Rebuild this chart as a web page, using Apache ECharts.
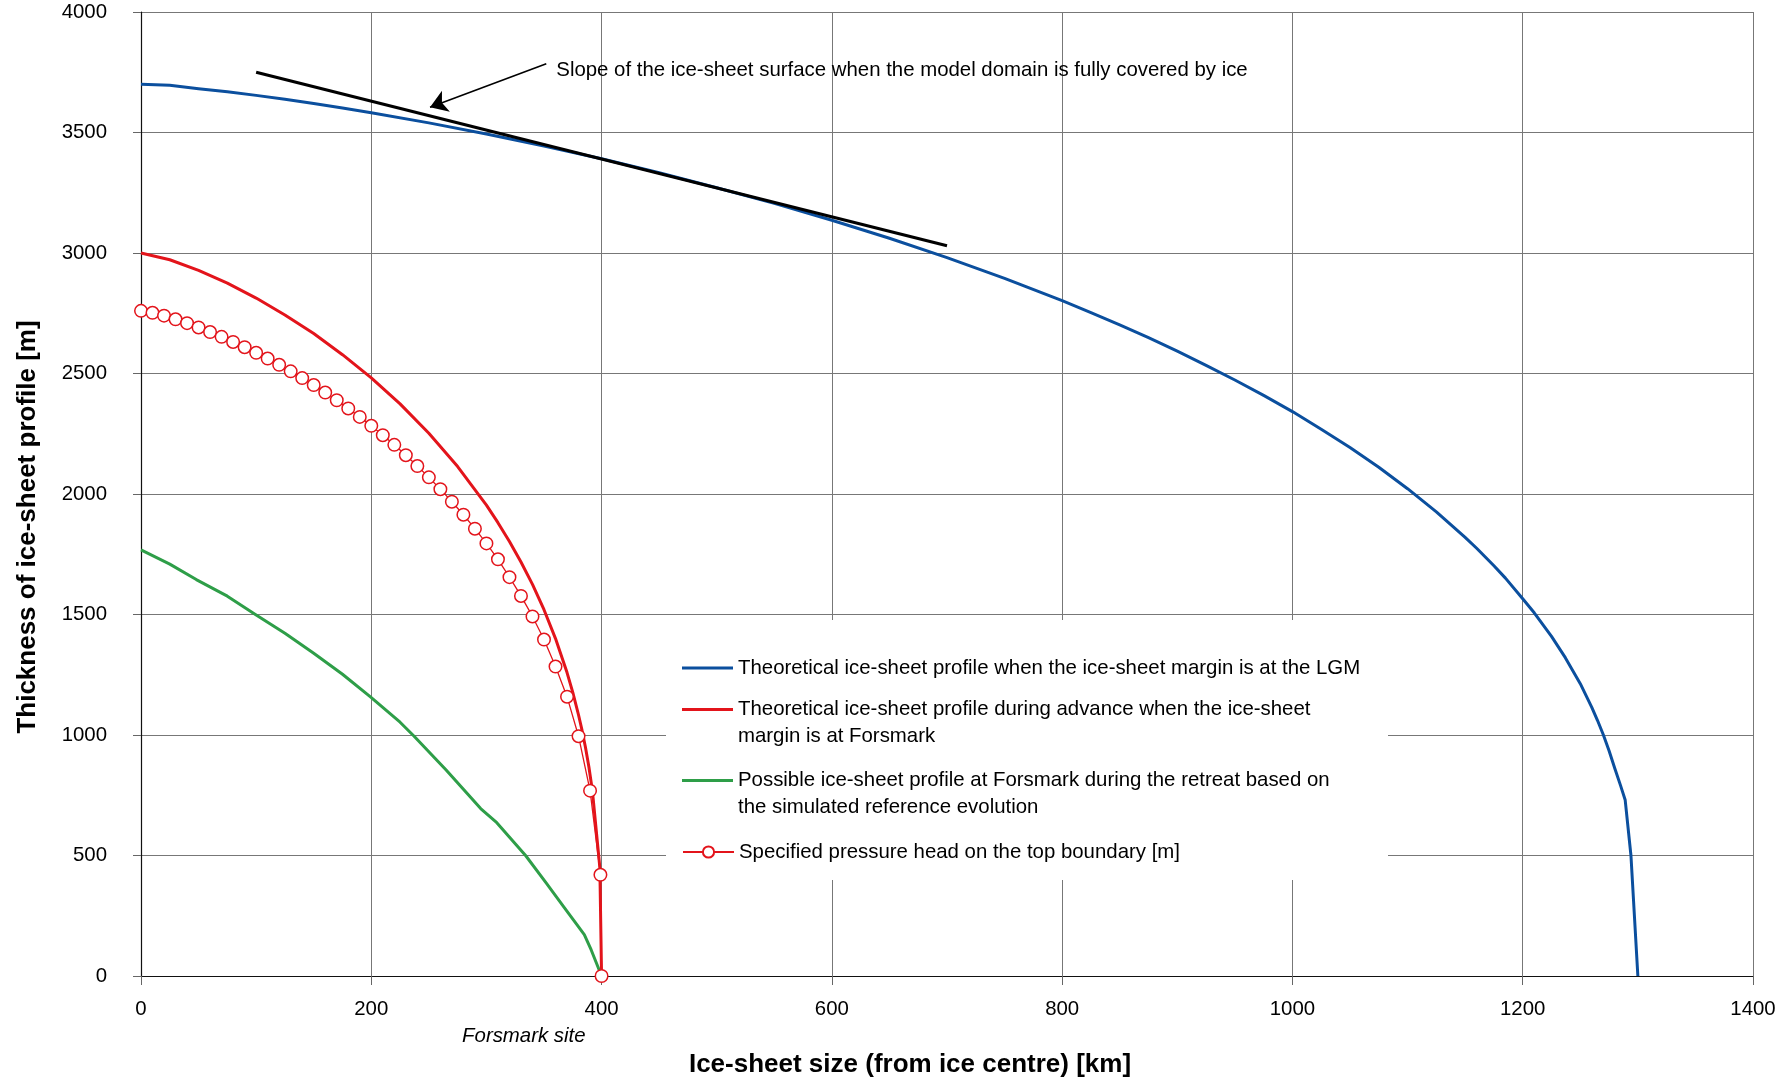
<!DOCTYPE html>
<html>
<head>
<meta charset="utf-8">
<script src="https://cdn.jsdelivr.net/npm/echarts@6/dist/echarts.min.js"></script>
<style>html,body{margin:0;padding:0;background:#fff}#c{width:1790px;height:1086px}</style>
</head>
<body>
<div id="c"></div>
<script>
const FONT = "'Liberation Sans', Arial, Helvetica, sans-serif";

const xTitle = 'Ice-sheet size (from ice centre) [km]';
const yTitle = 'Thickness of ice-sheet profile [m]';
const xTicks = [0, 200, 400, 600, 800, 1000, 1200, 1400];
const yTicks = [0, 500, 1000, 1500, 2000, 2500, 3000, 3500, 4000];

const seriesNames = [
  'Theoretical ice-sheet profile when the ice-sheet margin is at the LGM',
  'Theoretical ice-sheet profile during advance when the ice-sheet margin is at Forsmark',
  'Possible ice-sheet profile at Forsmark during the retreat based on the simulated reference evolution',
  'Specified pressure head on the top boundary [m]'
];
const legendLabels = [
  'Theoretical ice-sheet profile when the ice-sheet margin is at the LGM',
  '\nTheoretical ice-sheet profile during advance when the ice-sheet\nmargin is at Forsmark',
  '\nPossible ice-sheet profile at Forsmark during the retreat based on\nthe simulated reference evolution',
  'Specified pressure head on the top boundary [m]'
];
const annotationText = 'Slope of the ice-sheet surface when the model domain is fully covered by ice';
const siteLabel = 'Forsmark site';
const siteKm = 400;

// LGM profile (blue)
const blueKm  = [0, 25, 50, 75, 100, 125, 150, 175, 200, 250, 300, 350, 400, 450, 500, 550, 600, 650, 700, 750, 800, 825, 850, 875, 900, 925, 950, 975, 1000, 1025, 1050, 1075, 1100, 1125, 1150, 1160, 1175, 1185, 1200, 1210, 1225, 1237, 1250, 1260, 1265, 1270, 1275, 1280, 1285, 1289, 1294, 1300];
const blueThk = [3700, 3696, 3682, 3669, 3654, 3638, 3620, 3602, 3582, 3540, 3494, 3444, 3391, 3333, 3271, 3206, 3136, 3061, 2981, 2895, 2802, 2753, 2702, 2649, 2593, 2534, 2473, 2409, 2342, 2269, 2193, 2111, 2022, 1926, 1820, 1775, 1702, 1651, 1565, 1507, 1409, 1321, 1213, 1115, 1060, 1001, 935, 861, 790, 730, 500, 0];

// Advance profile, margin at Forsmark (red)
const redKm  = [0, 25, 50, 75, 100, 125, 150, 175, 200, 225, 250, 275, 300, 310, 320, 330, 340, 350, 360, 370, 375, 380, 383, 386, 389, 392, 398.5, 400];
const redThk = [3000, 2972, 2928, 2875, 2813, 2743, 2666, 2578, 2482, 2374, 2252, 2114, 1954, 1881, 1803, 1718, 1625, 1520, 1400, 1259, 1177, 1083, 1020, 949, 867, 770, 450, 0];

// Retreat profile (green)
const greenKm  = [0, 25, 48, 75, 99, 125, 150, 175, 199, 225, 237, 265, 280, 295, 309, 334, 352, 367, 385, 391, 400];
const greenThk = [1768, 1709, 1645, 1576, 1501, 1422, 1339, 1252, 1159, 1053, 996, 855, 775, 695, 636, 500, 385, 288, 172, 108, 0];

// Specified pressure head (red markers)
const headKm  = [0, 10, 20, 30, 40, 50, 60, 70, 80, 90, 100, 110, 120, 130, 140, 150, 160, 170, 180, 190, 200, 210, 220, 230, 240, 250, 260, 270, 280, 290, 300, 310, 320, 330, 340, 350, 360, 370, 380, 390, 399, 400];
const headVal = [2760, 2752, 2740, 2725, 2709, 2691, 2672, 2652, 2631, 2609, 2586, 2562, 2536, 2509, 2481, 2452, 2421, 2389, 2355, 2320, 2283, 2244, 2204, 2161, 2116, 2069, 2020, 1968, 1914, 1856, 1795, 1729, 1655, 1577, 1492, 1396, 1284, 1159, 995, 769, 420, 0];

// Surface slope line and its arrow
const slopeKm  = [100, 700];
const slopeVal = [3750, 3030];
const arrowFrom = [352, 3785];
const arrowTo   = [251, 3605];

const zip = (a, b) => a.map((v, i) => [v, b[i]]);

const BLUE = '#0b4f9e', RED = '#e3141b', GREEN = '#2e9e48';
const FS = 20.4;

const chart = echarts.init(document.getElementById('c'), null, {renderer: 'canvas'});

const axisCommon = {
  type: 'value',
  nameLocation: 'middle',
  axisLine: {show: true, onZero: false, lineStyle: {color: '#111', width: 1.2}},
  splitLine: {show: true, lineStyle: {color: '#777', width: 1}}
};

const legendBase = {
  left: 682, orient: 'horizontal', padding: 0, itemGap: 0,
  itemWidth: 51, itemHeight: 14, selectedMode: false,
  textStyle: {fontSize: FS, color: '#000', fontFamily: FONT, lineHeight: 27},
  formatter: name => legendLabels[seriesNames.indexOf(name)]
};

const option = {
  animation: false,
  backgroundColor: '#fff',
  grid: {left: 141, right: 37, top: 12, bottom: 110, containLabel: false},
  xAxis: Object.assign({}, axisCommon, {
    min: xTicks[0], max: xTicks[xTicks.length - 1], interval: 200,
    name: xTitle, nameGap: 76,
    nameTextStyle: {fontSize: 26, fontWeight: 'bold', color: '#000', fontFamily: FONT, padding: [0, 74, 0, 0]},
    axisTick: {show: true, length: 9, lineStyle: {color: '#666', width: 1}},
    axisLabel: {fontSize: FS, color: '#000', fontFamily: FONT, margin: 23, formatter: v => String(v)}
  }),
  yAxis: Object.assign({}, axisCommon, {
    min: yTicks[0], max: yTicks[yTicks.length - 1], interval: 500,
    name: yTitle, nameGap: 100,
    nameTextStyle: {fontSize: 26, fontWeight: 'bold', color: '#000', fontFamily: FONT, padding: [0, 66, 0, 0]},
    axisTick: {show: true, length: 8, lineStyle: {color: '#666', width: 1}},
    axisLabel: {fontSize: FS, color: '#000', fontFamily: FONT, margin: 34, formatter: v => String(v)}
  }),
  legend: [
    Object.assign({}, legendBase, {top: 654.5, icon: 'rect', itemHeight: 3, data: [seriesNames[0]]}),
    Object.assign({}, legendBase, {top: 669, icon: 'rect', itemHeight: 3, data: [seriesNames[1]]}),
    Object.assign({}, legendBase, {top: 740, icon: 'rect', itemHeight: 3, data: [seriesNames[2]]}),
    Object.assign({}, legendBase, {top: 838.5, data: [seriesNames[3]]})
  ],
  series: [
    {name: seriesNames[0], type: 'line', data: zip(blueKm, blueThk), showSymbol: false, symbol: 'none',
     lineStyle: {color: BLUE, width: 3, join: 'round'}, itemStyle: {color: BLUE}, z: 3},
    {name: seriesNames[1], type: 'line', data: zip(redKm, redThk), showSymbol: false, symbol: 'none',
     lineStyle: {color: RED, width: 3, join: 'round'}, itemStyle: {color: RED}, z: 3},
    {name: seriesNames[2], type: 'line', data: zip(greenKm, greenThk), showSymbol: false, symbol: 'none',
     lineStyle: {color: GREEN, width: 3, join: 'round'}, itemStyle: {color: GREEN}, z: 3},
    {name: seriesNames[3], type: 'line', data: zip(headKm, headVal), symbol: 'circle', symbolSize: 12.5, showSymbol: true,
     lineStyle: {color: RED, width: 1.3}, itemStyle: {color: '#fff', borderColor: RED, borderWidth: 1.5}, z: 4},
    {name: 'slope', type: 'line', data: zip(slopeKm, slopeVal), showSymbol: false, symbol: 'none',
     lineStyle: {color: '#000', width: 3}, z: 5,
     markLine: {silent: true, symbol: ['none', 'arrow'], symbolSize: 17, label: {show: false},
       lineStyle: {color: '#000', width: 1.6, type: 'solid'},
       data: [[{coord: arrowFrom}, {coord: arrowTo}]]}}
  ]
};

chart.setOption(option);

// layout-dependent texts and the legend backdrop
const siteX = chart.convertToPixel({xAxisIndex: 0}, siteKm);
const arrowStart = chart.convertToPixel({gridIndex: 0}, arrowFrom);
chart.setOption({
  graphic: [
    {type: 'rect', z: 1, silent: true, shape: {x: 666, y: 620, width: 722, height: 260}, style: {fill: '#fff'}},
    {type: 'text', z: 10, silent: true, x: siteX - 16, y: 1036,
     style: {text: siteLabel, fontSize: FS, fontStyle: 'italic', fontFamily: FONT, fill: '#000', align: 'right', verticalAlign: 'middle'}},
    {type: 'text', z: 10, silent: true, x: arrowStart[0] + 10, y: arrowStart[1] + 7,
     style: {text: annotationText, fontSize: FS, fontFamily: FONT, fill: '#000', align: 'left', verticalAlign: 'middle'}}
  ]
});
</script>
</body>
</html>
